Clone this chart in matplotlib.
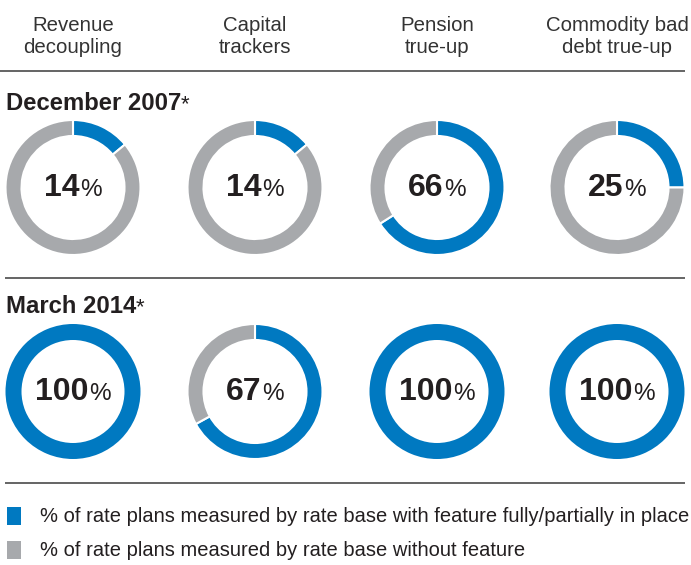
import matplotlib
matplotlib.use("Agg")
import matplotlib.pyplot as plt

plt.rcParams["font.family"] = ["Liberation Sans", "DejaVu Sans"]

W, H = 691, 565

features = ["Revenue\ndecoupling", "Capital\ntrackers", "Pension\ntrue-up", "Commodity bad\ndebt true-up"]
periods = ["December 2007", "March 2014"]
share_2007 = [14, 14, 66, 25]
share_2014 = [100, 67, 100, 100]
legend_labels = [
    "% of rate plans measured by rate base with feature fully/partially in place",
    "% of rate plans measured by rate base without feature",
]

BLUE = "#0079c1"
GREY = "#a7a9ac"
INK = "#231f20"
RULE = "#3a3a3a"

col_x = [73, 255, 437, 617]
row_cy = [187.5, 391.5]
title_base = [110, 313]
R_OUT, RING = 67.5, 16

fig = plt.figure(figsize=(W / 100, H / 100), dpi=100)
ax = fig.add_axes([0, 0, 1, 1])


def Y(y):
    # pixel row (top-down) -> data y (bottom-up)
    return H - y


renderer = fig.canvas.get_renderer()

for cx, name in zip(col_x, features):
    for line, base in zip(name.split("\n"), (31, 53)):
        ax.text(cx, Y(base), line, ha="center", va="baseline", fontsize=14.7, color="#333333")

for y, x0 in ((71, 0), (278, 5), (483, 5)):
    ax.plot([x0, 685], [Y(y), Y(y)], color=RULE, lw=1.1, solid_capstyle="butt")

for r, (period, shares) in enumerate(zip(periods, (share_2007, share_2014))):
    t = ax.text(6, Y(title_base[r]), period, ha="left", va="baseline",
                fontsize=17.2, fontweight="bold", color=INK)
    wt = t.get_window_extent(renderer).width
    ax.text(6 + wt - 0.5, Y(title_base[r]), "*", ha="left", va="baseline", fontsize=16, color=INK)
    cy = row_cy[r]
    for cx, v in zip(col_x, shares):
        vals = [v, 100 - v]
        cols = [BLUE, GREY]
        keep = [(a, c) for a, c in zip(vals, cols) if a > 0]
        ax.pie([a for a, _ in keep], colors=[c for _, c in keep], startangle=90,
               counterclock=False, radius=R_OUT, center=(cx, Y(cy)),
               wedgeprops=dict(width=RING, edgecolor="white", linewidth=1.5 if len(keep) > 1 else 0))
        n = ax.text(0, 0, str(v), ha="left", va="baseline", fontsize=23, fontweight="bold", color=INK)
        p = ax.text(0, 0, "%", ha="left", va="baseline", fontsize=17.5, color=INK)
        wn = n.get_window_extent(renderer).width
        wp = p.get_window_extent(renderer).width
        x0 = cx - (wn + wp + 1) / 2
        n.set_position((x0, Y(cy + 8)))
        p.set_position((x0 + wn + 1, Y(cy + 8)))

for i, (lab, c) in enumerate(zip(legend_labels, (BLUE, GREY))):
    top = 507 + i * 34
    ax.add_patch(plt.Rectangle((7, Y(top + 18)), 14, 18, color=c, lw=0))
    ax.text(40, Y(top + 15), lab, ha="left", va="baseline", fontsize=14.5, color=INK)

ax.set_xlim(0, W)
ax.set_ylim(0, H)
ax.set_aspect("equal")
ax.axis("off")

fig.savefig("out.png", dpi=100)
